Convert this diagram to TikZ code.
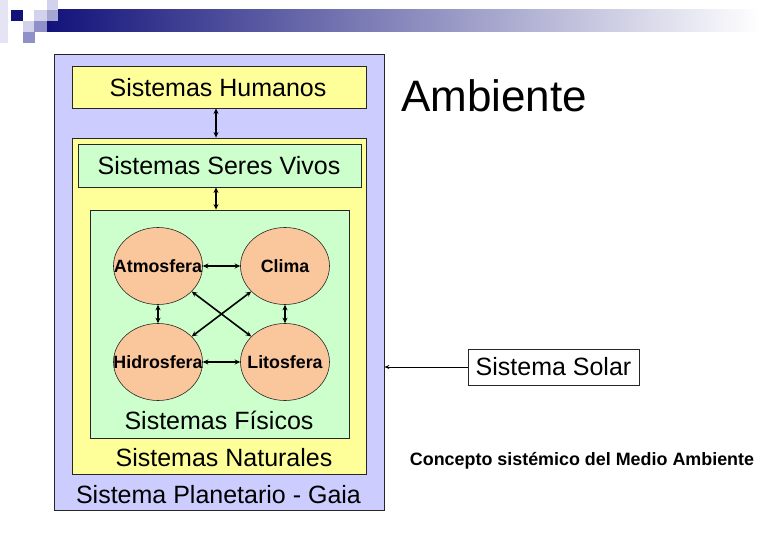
\documentclass[tikz,border=0pt]{standalone}
\usepackage{fontspec}
\setmainfont{Liberation Sans}
\usetikzlibrary{arrows.meta,shapes.geometric}
\definecolor{lavanda}{HTML}{CCCCFF}
\definecolor{amarillo}{HTML}{FFFF99}
\definecolor{verde}{HTML}{CCFFCC}
\definecolor{durazno}{HTML}{FAC69C}
\definecolor{marino}{HTML}{12127A}
\definecolor{medio}{HTML}{A2A2B8}
\definecolor{claro}{HTML}{D2D2EC}
\definecolor{semi}{HTML}{9090C8}
\tikzset{
  caja/.style={draw=black!85, line width=0.8pt, inner sep=0pt},
  esfera/.style={ellipse, draw=black!85, line width=0.6pt, fill=durazno,
    minimum width=89pt, minimum height=77pt, inner sep=0pt},
  rotulo/.style={font=\fontsize{25}{30}\selectfont, anchor=base},
  chico/.style={font=\bfseries\fontsize{17.8}{22}\selectfont},
  flecha/.style={{Stealth[length=5.5pt,width=5pt]}-{Stealth[length=5.5pt,width=5pt]}, line width=1.6pt}
}
\begin{document}
\begin{tikzpicture}[x=1pt,y=-1pt]
  \useasboundingbox (0,0) rectangle (780,540);
  % banda superior
  \shade[left color=marino, middle color=medio, right color=white] (47,10) rectangle (760,32);
  \fill[white] (760,10) rectangle (780,32);
  \fill[claro!60] (0,0) rectangle (8,43);
  \fill[marino] (11,10) rectangle (23,21);
  \fill[claro] (34,10) rectangle (47,21);
  \fill[claro] (47,0) rectangle (58,10);
  \fill[semi!80] (47,10) rectangle (58,21);
  \fill[claro] (23,21) rectangle (34,32);
  \fill[semi] (34,21) rectangle (47,32);
  \fill[semi] (23,32) rectangle (35,43);
  % cajas
  \node[caja, fill=lavanda, minimum width=330pt, minimum height=456pt] (gaia) at (219,282) {};
  \node[caja, fill=amarillo, minimum width=294pt, minimum height=42pt] (hum) at (219,87) {};
  \node[caja, fill=amarillo, minimum width=294pt, minimum height=336pt] (nat) at (219,306) {};
  \node[caja, fill=verde, minimum width=283pt, minimum height=43pt] (vivos) at (219.5,165.5) {};
  \node[caja, fill=verde, minimum width=259pt, minimum height=228pt] (fis) at (219.5,324) {};
  \node[caja, fill=white, minimum width=171pt, minimum height=36pt] (solar) at (553.5,367) {};
  % esferas
  \node[esfera, label={[chico]center:Atmosfera}] (atm) at (158,266) {};
  \node[esfera, label={[chico]center:Clima}] (cli) at (285,266) {};
  \node[esfera, label={[chico]center:Hidrosfera}] (hid) at (158,362) {};
  \node[esfera, label={[chico]center:Litosfera}] (lit) at (285,362) {};
  % textos
  \node[rotulo] (thum) at (218,97) {Sistemas Humanos};
  \node[rotulo] (tvivos) at (219,175) {Sistemas Seres Vivos};
  \node[rotulo] (tfis) at (219,429) {Sistemas Físicos};
  \node[rotulo] (tnat) at (224,466) {Sistemas Naturales};
  \node[rotulo] (tgaia) at (218.5,503) {Sistema Planetario - Gaia};
  \node[rotulo] (tsolar) at (553.5,375) {Sistema Solar};
  \node[font=\fontsize{44}{50}\selectfont, anchor=base] (amb) at (494,112) {Ambiente};
  \node[font=\bfseries\fontsize{17.9}{22}\selectfont, anchor=base] (concepto) at (582,465) {Concepto sistémico del Medio Ambiente};
  % relaciones
  \draw[flecha] ([xshift=-3pt]hum.south) -- ([xshift=-3pt]nat.north);
  \draw[flecha] ([xshift=-3.5pt]vivos.south) -- ([xshift=-3.5pt]fis.north);
  \draw[flecha] (atm) -- (cli);
  \draw[flecha] (hid) -- (lit);
  \draw[flecha] (atm) -- (hid);
  \draw[flecha] (cli) -- (lit);
  \draw[flecha] (atm) -- (lit);
  \draw[flecha] (cli) -- (hid);
  \draw[-{Stealth[length=5pt,width=4pt]}, line width=0.9pt] (solar.west) -- (solar.west -| gaia.east);
\end{tikzpicture}
\end{document}
